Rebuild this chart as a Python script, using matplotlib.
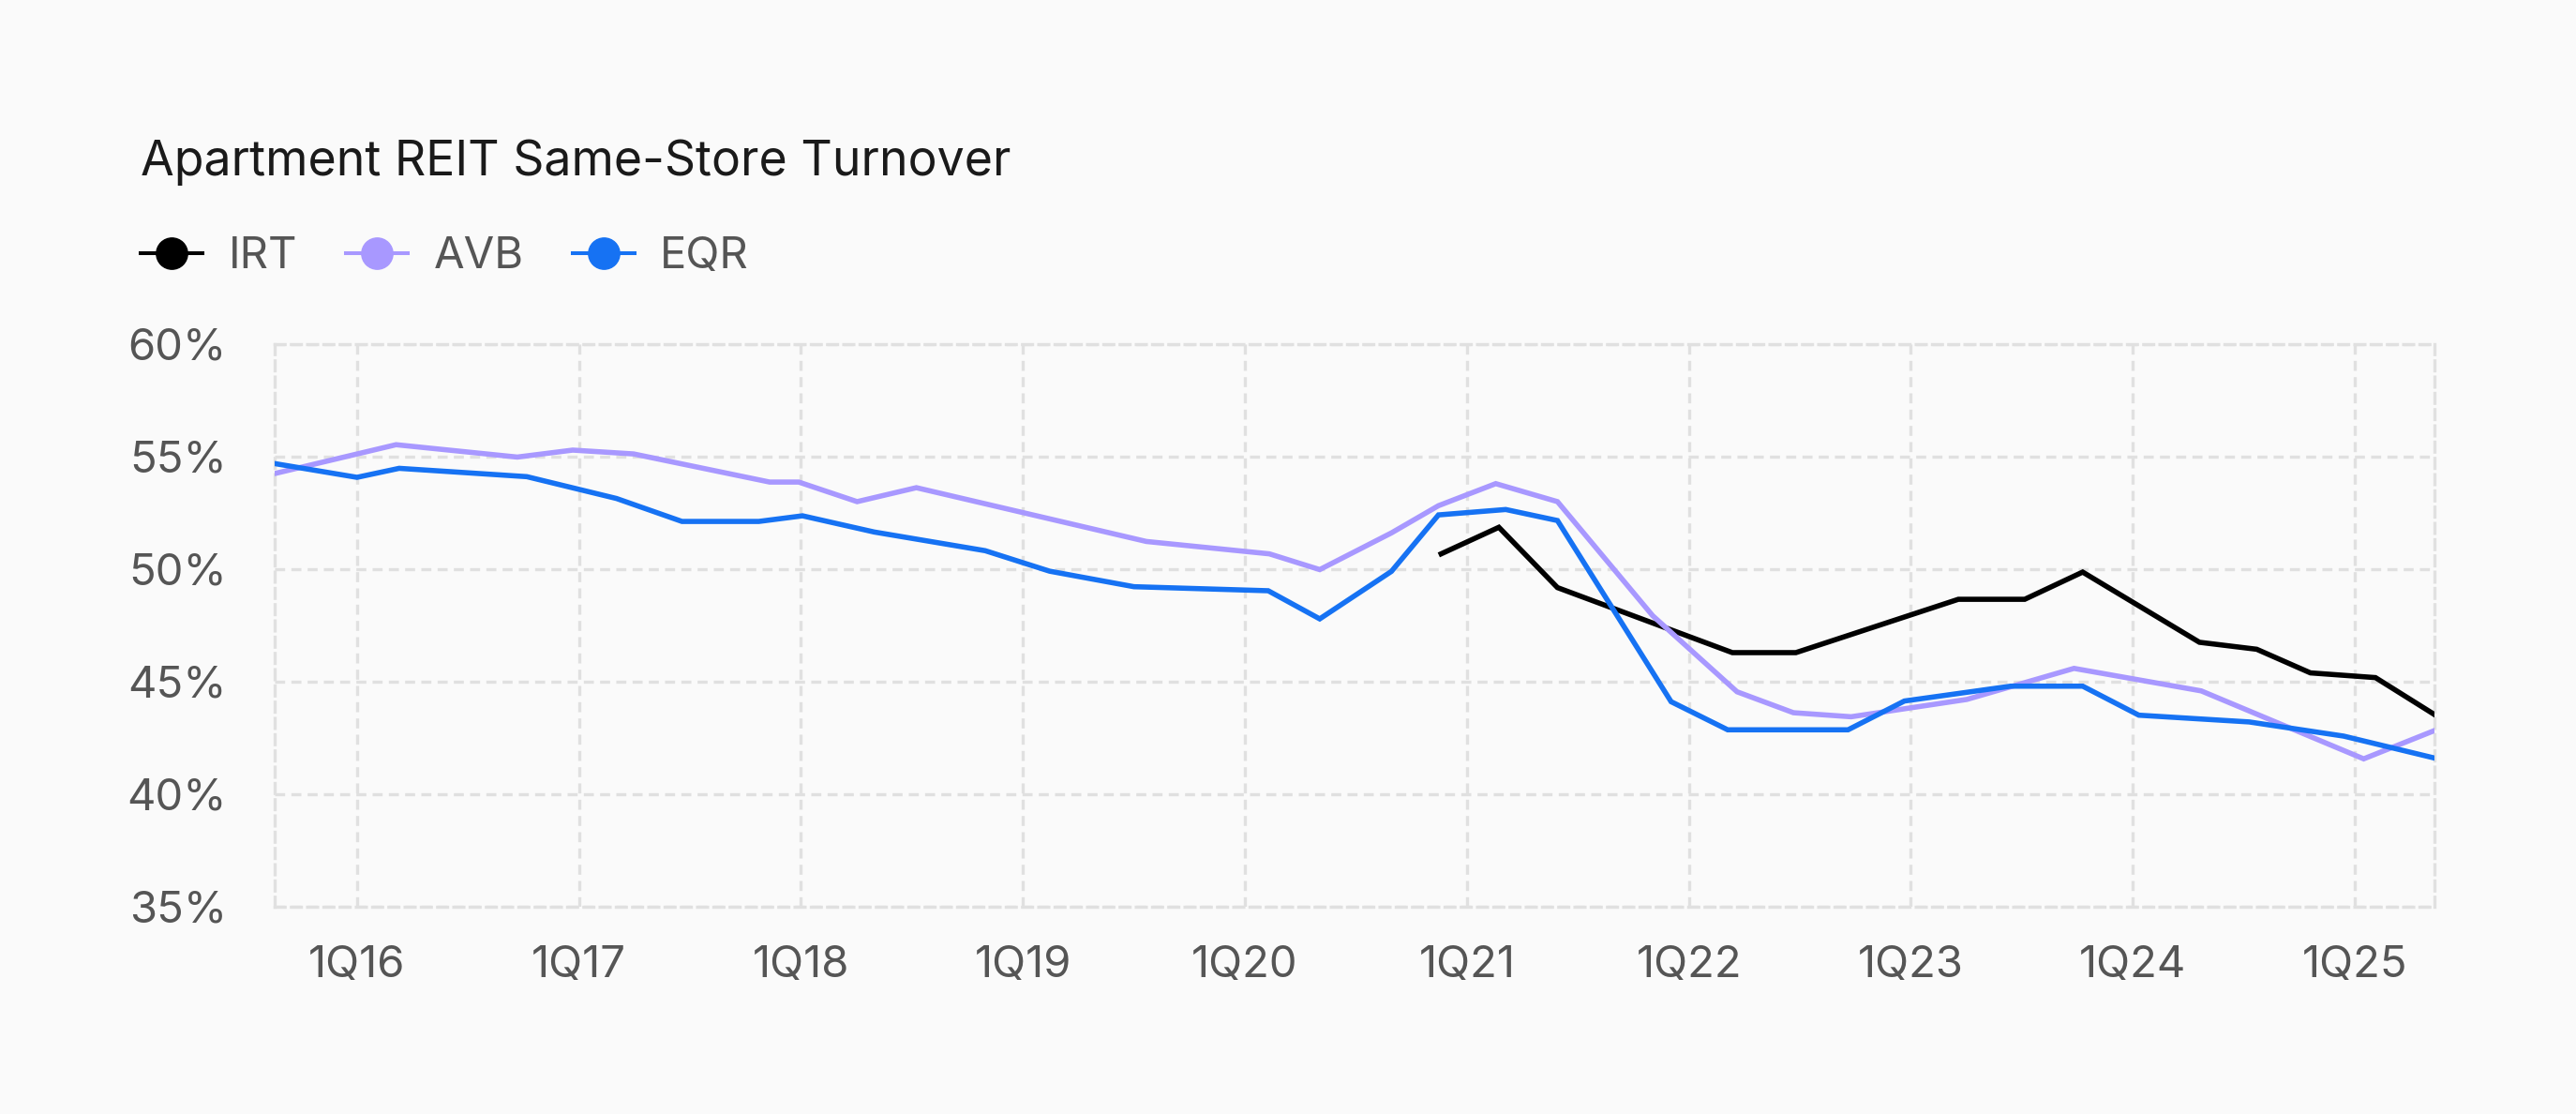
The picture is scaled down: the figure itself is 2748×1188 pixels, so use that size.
import numpy as np
import matplotlib.pyplot as plt
from matplotlib.lines import Line2D

plt.rcParams['font.family'] = ['Inter', 'DejaVu Sans']

# quarterly reporting points, as fractional years
irt_x = [2020.884, 2021.144, 2021.408, 2022.196, 2022.482, 2023.214, 2023.513,
         2023.774, 2024.300, 2024.558, 2024.800, 2025.093, 2025.357]
irt_y = [50.67, 51.85, 49.17, 46.28, 46.28, 48.65, 48.65,
         49.86, 46.74, 46.43, 45.38, 45.17, 43.54]

avb_x = [2015.630, 2016.176, 2016.722, 2016.972, 2017.246, 2017.859, 2017.990,
         2018.253, 2018.520, 2019.556, 2020.110, 2020.337, 2020.660, 2020.872,
         2021.130, 2021.408, 2021.837, 2022.217, 2022.471, 2022.731, 2023.252,
         2023.735, 2024.308, 2025.040, 2025.357]
avb_y = [54.24, 55.52, 54.97, 55.28, 55.11, 53.86, 53.86,
         52.99, 53.61, 51.22, 50.67, 49.97, 51.60, 52.81,
         53.79, 52.99, 47.92, 44.54, 43.61, 43.43, 44.20,
         45.58, 44.58, 41.56, 42.81]

eqr_x = [2015.630, 2016.000, 2016.190, 2016.765, 2017.169, 2017.464, 2017.810,
         2018.007, 2018.330, 2018.830, 2019.120, 2019.500, 2020.105, 2020.337,
         2020.660, 2020.872, 2021.175, 2021.408, 2021.920, 2022.175, 2022.717,
         2022.971, 2023.450, 2023.774, 2024.027, 2024.524, 2024.950, 2025.357]
eqr_y = [54.68, 54.07, 54.47, 54.10, 53.13, 52.11, 52.11,
         52.36, 51.64, 50.81, 49.90, 49.21, 49.03, 47.78,
         49.89, 52.40, 52.64, 52.15, 44.10, 42.85, 42.85,
         44.13, 44.79, 44.79, 43.50, 43.20, 42.57, 41.60]

names = ['IRT', 'AVB', 'EQR']
colors = ['#000000', '#a898ff', '#1672f3']

tick_years = list(range(2016, 2026))
tick_labels = ['1Q%02d' % (y % 100) for y in tick_years]
y_ticks = [35, 40, 45, 50, 55, 60]

bg = '#fafafa'
grid_c = '#e0e0e0'
dash = (0, (3.2, 2.0))

fig = plt.figure(figsize=(27.48, 11.88), dpi=100, facecolor=bg)
ax = fig.add_axes([0.1067, 0.1863, 0.9449 - 0.1067, 0.6913 - 0.1863])
ax.set_facecolor(bg)

series = [(irt_x, irt_y), (avb_x, avb_y), (eqr_x, eqr_y)]
for (xs, ys), c in zip(series, colors):
    ax.plot(xs, ys, color=c, lw=4.0, solid_joinstyle='miter', zorder=3)

ax.set_xlim(min(avb_x + eqr_x), max(irt_x + avb_x + eqr_x))
ax.set_ylim(35, 60)
ax.set_xticks(tick_years)
ax.set_xticklabels(tick_labels)
ax.set_yticks(y_ticks)
ax.set_yticklabels(['%d%%' % v for v in y_ticks])
ax.tick_params(axis='both', length=0, labelsize=34, colors='#555555')
ax.tick_params(axis='y', pad=37)
ax.tick_params(axis='x', pad=30)
ax.grid(True, color=grid_c, lw=2.4, linestyle=dash, zorder=0)
for sp in ax.spines.values():
    sp.set_color(grid_c)
    sp.set_linewidth(2.4)
    sp.set_linestyle(dash)

fig.text(0.0546, 0.8428, 'Apartment REIT Same-Store Turnover', fontsize=37.3,
         color='#1a1a1a', va='baseline', ha='left')

handles = [Line2D([0], [0], color=c, lw=2.9, marker='o', markersize=24) for c in colors]
leg = ax.legend(handles, names, loc='center left', bbox_to_anchor=(0.0546, 0.769),
                bbox_transform=fig.transFigure, ncol=3, frameon=False, fontsize=34,
                borderpad=0, borderaxespad=0, handlelength=1.4, handletextpad=0.58,
                columnspacing=1.1)
for t in leg.get_texts():
    t.set_color('#555555')

fig.savefig('out.png', dpi=100, facecolor=bg)
